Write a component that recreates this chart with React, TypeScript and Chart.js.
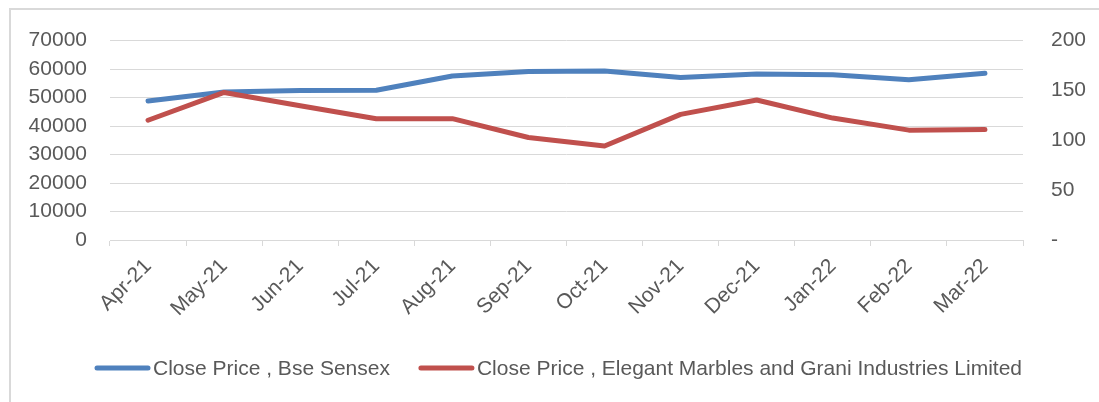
import React, { useEffect, useRef } from "react";
import { Chart, registerables } from "chart.js";

Chart.register(...registerables);

const months = ["Apr-21", "May-21", "Jun-21", "Jul-21", "Aug-21", "Sep-21", "Oct-21", "Nov-21", "Dec-21", "Jan-22", "Feb-22", "Mar-22"];
const sensexClose = [48782, 51937, 52483, 52587, 57552, 59126, 59307, 57065, 58254, 58014, 56247, 58569];
const elegantClose = [120.1, 148.0, 134.7, 121.7, 121.7, 102.8, 94.3, 126.0, 140.4, 122.3, 110.2, 110.8];
const seriesNames = ["Close Price , Bse Sensex", "Close Price , Elegant Marbles and Grani Industries Limited"];

const FONT = "'Liberation Sans', Arial, sans-serif";
const TEXT = "#595959";
const GRID = "#d9d9d9";

const legendPlugin = {
  id: "customLegend",
  afterDraw(chart: any) {
    const ctx = chart.ctx;
    const ds = chart.data.datasets;
    const lineLen = 55;
    const gap = 3;
    const itemGap = 29;
    const y = 368;
    ctx.save();
    ctx.font = `21px ${FONT}`;
    const widths = ds.map((d: any) => ctx.measureText(d.label).width);
    let x = 95;
    ds.forEach((d: any, i: number) => {
      ctx.strokeStyle = d.borderColor;
      ctx.lineWidth = 5;
      ctx.lineCap = "round";
      ctx.beginPath();
      ctx.moveTo(x + 2, y);
      ctx.lineTo(x + lineLen - 2, y);
      ctx.stroke();
      ctx.fillStyle = TEXT;
      ctx.textBaseline = "middle";
      ctx.textAlign = "left";
      ctx.fillText(d.label, x + lineLen + gap, y + 1);
      x += lineLen + gap + widths[i] + itemGap;
    });
    ctx.restore();
  },
};

export default function App() {
  const ref = useRef<HTMLCanvasElement>(null);
  useEffect(() => {
    if (!ref.current) return;
    const chart = new Chart(ref.current, {
      type: "line",
      data: {
        labels: months,
        datasets: [
          {
            label: seriesNames[0],
            data: sensexClose,
            borderColor: "#4f81bd",
            backgroundColor: "#4f81bd",
            borderWidth: 5,
            pointRadius: 0,
            tension: 0,
            borderCapStyle: "round",
            borderJoinStyle: "round",
            yAxisID: "y",
            order: 1,
          },
          {
            label: seriesNames[1],
            data: elegantClose,
            borderColor: "#c0504d",
            backgroundColor: "#c0504d",
            borderWidth: 5,
            pointRadius: 0,
            tension: 0,
            borderCapStyle: "round",
            borderJoinStyle: "round",
            yAxisID: "y1",
            order: 0,
          },
        ],
      },
      options: {
        animation: false,
        responsive: false,
        maintainAspectRatio: false,
        layout: { padding: { top: 37, bottom: 0, left: 0, right: 0 } },
        plugins: { legend: { display: false }, tooltip: { enabled: false } },
        scales: {
          x: {
            offset: true,
            grid: { display: true, drawOnChartArea: false, drawTicks: true, tickLength: 6, color: GRID, offset: true },
            border: { display: true, color: GRID, width: 1 },
            ticks: { color: TEXT, font: { family: FONT, size: 21 }, minRotation: 45, maxRotation: 45, padding: 8, autoSkip: false },
            afterFit: (s: any) => { s.height = 162; },
          },
          y: {
            position: "left",
            min: 0,
            max: 70000,
            ticks: {
              stepSize: 10000,
              color: TEXT,
              font: { family: FONT, size: 21 },
              padding: 23,
              callback: (v: any) => String(v),
            },
            grid: { color: GRID, drawTicks: false, lineWidth: 1 },
            border: { display: false },
            afterFit: (s: any) => { s.width = 110; },
          },
          y1: {
            position: "right",
            min: 0,
            max: 200,
            ticks: {
              stepSize: 50,
              color: TEXT,
              font: { family: FONT, size: 21 },
              padding: 28,
              callback: (v: any) => (Number(v) === 0 ? "-" : String(v)),
            },
            grid: { drawOnChartArea: false, drawTicks: false },
            border: { display: false },
            afterFit: (s: any) => { s.width = 76; },
          },
        },
      },
      plugins: [legendPlugin],
    });
    return () => chart.destroy();
  }, []);

  return (
    <div style={{ position: "fixed", left: 0, top: 0, width: 1099, height: 402, background: "#fff" }}>
      <div style={{ position: "absolute", left: 9, top: 8, width: 2000, height: 2000, borderTop: `2px solid ${GRID}`, borderLeft: `2px solid ${GRID}`, boxSizing: "border-box" }} />
      <canvas ref={ref} width={1099} height={402} style={{ position: "absolute", left: 0, top: 0, width: 1099, height: 402 }} />
    </div>
  );
}
